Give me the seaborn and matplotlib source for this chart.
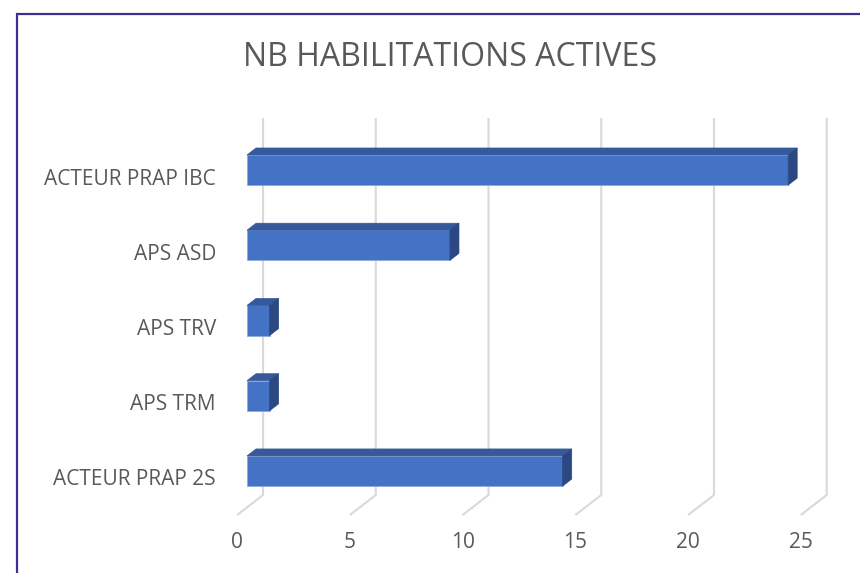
"""3D-style horizontal bar chart: NB HABILITATIONS ACTIVES."""
import matplotlib
matplotlib.use("Agg")
import matplotlib.pyplot as plt
from matplotlib.patches import Polygon, Rectangle
from matplotlib.transforms import ScaledTranslation
import pandas as pd
import seaborn as sns

# data
categories = ["ACTEUR PRAP IBC", "APS ASD", "APS TRV", "APS TRM", "ACTEUR PRAP 2S"]
values = [24, 9, 1, 1, 14]
x_ticks = [0, 5, 10, 15, 20, 25]

# 3D look (offsets in data units)
BAR_DX, BAR_DY = 0.40, 0.093       # bar depth
WALL_DX = 0.71                     # back wall offset from bar front
FLOOR_DX = -0.44                   # floor front edge offset
WALL_BOTTOM, FLOOR_FRONT, WALL_TOP = 4.319, 4.585, -0.691

FRONT, TOP, SIDE = "#4472C4", "#35599B", "#2B4882"
GRID = "#D9D9D9"
TEXT = "#595959"

sns.set_theme(style="white")
plt.rcParams["font.family"] = ["Open Sans", "DejaVu Sans"]

fig = plt.figure(figsize=(8.6, 5.73), dpi=100)
ax = fig.add_axes([0.2715, 0.1012, 0.6974, 0.6928])

df = pd.DataFrame({"cat": categories, "val": values})
sns.barplot(data=df, x="val", y="cat", orient="h", color=FRONT, width=0.4,
            saturation=1, ax=ax, zorder=3, edgecolor="#8FAADC", linewidth=0.6)

# wall + floor gridlines
for t in x_ticks:
    ax.plot([t + WALL_DX, t + WALL_DX, t + FLOOR_DX],
            [WALL_TOP, WALL_BOTTOM, FLOOR_FRONT],
            color=GRID, lw=1.5, zorder=1, solid_capstyle="butt", clip_on=False)

# top and side faces of each bar
for p in ax.patches[:]:
    x0, y0, w, h = p.get_x(), p.get_y(), p.get_width(), p.get_height()
    top = y0  # inverted y axis: smaller y is higher
    bot = y0 + h
    top_face = [(x0, top), (x0 + w, top), (x0 + w + BAR_DX, top - BAR_DY),
                (x0 + BAR_DX, top - BAR_DY)]
    side_face = [(x0 + w, top), (x0 + w + BAR_DX, top - BAR_DY),
                 (x0 + w + BAR_DX, bot - BAR_DY), (x0 + w, bot)]
    ax.add_patch(Polygon(top_face, closed=True, facecolor=TOP,
                         edgecolor=TOP, lw=0.5, zorder=3))
    ax.add_patch(Polygon(side_face, closed=True, facecolor=SIDE,
                         edgecolor=SIDE, lw=0.5, zorder=3))

ax.set_xlim(-0.6, 26.0)
ax.set_ylim(FLOOR_FRONT, WALL_TOP)
ax.set_xticks([t + FLOOR_DX for t in x_ticks], labels=[str(t) for t in x_ticks])
ax.tick_params(axis="x", length=0, pad=12.5, labelsize=15, labelcolor=TEXT)
ax.tick_params(axis="y", length=0, pad=12.6, labelsize=15, labelcolor=TEXT)
ax.set_xlabel("")
ax.set_ylabel("")
for s in ax.spines.values():
    s.set_visible(False)
ax.grid(False)

# category labels sit a little below the bar centres in the original
shift = ScaledTranslation(0, -0.065, fig.dpi_scale_trans)
for lbl in ax.get_yticklabels():
    lbl.set_transform(lbl.get_transform() + shift)

fig.text(450 / 860, 1 - 58 / 573, "NB HABILITATIONS ACTIVES", ha="center",
         va="center", fontsize=23, color=TEXT)

# chart frame
fig.patches.append(Rectangle((17 / 860, -0.1), 1.2, 1 - 14 / 573 + 0.1,
                             transform=fig.transFigure, fill=False,
                             edgecolor="#3A3192", lw=1.6))

fig.savefig("out.png", dpi=100)
plt.close(fig)
